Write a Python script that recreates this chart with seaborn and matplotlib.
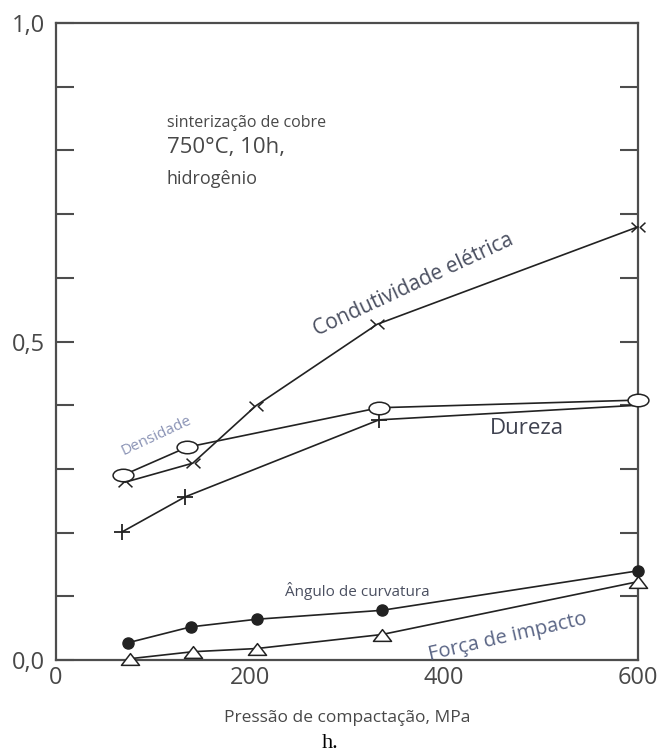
import numpy as np
import pandas as pd
import matplotlib
matplotlib.use("Agg")
import matplotlib.pyplot as plt
import seaborn as sns
from matplotlib.path import Path
from matplotlib.transforms import Affine2D

sns.set_theme(style="white")
plt.rcParams['font.family'] = ['Open Sans', 'DejaVu Sans']

# values (pressure in MPa, relative property)
cond_x = [71, 141, 206, 331, 600]
cond_y = [0.279, 0.309, 0.399, 0.527, 0.680]
dens_x = [69, 135, 333, 600]
dens_y = [0.290, 0.334, 0.396, 0.408]
dur_x = [68, 133, 333, 600]
dur_y = [0.201, 0.256, 0.377, 0.400]
ang_x = [74, 139, 207, 336, 600]
ang_y = [0.027, 0.052, 0.064, 0.078, 0.140]
forca_x = [76, 141, 207, 336, 600]
forca_y = [0.002, 0.013, 0.018, 0.040, 0.123]

ytick_vals = [i / 10 for i in range(11)]
ytick_labels = ["0,0", "", "", "", "", "0,5", "", "", "", "", "1,0"]
xtick_vals = [0, 200, 400, 600]
xtick_labels = ["0", "200", "400", "600"]

txt = '#484848'
line_c = '#222222'

# custom markers
ellipse = Path.unit_circle().transformed(Affine2D().scale(1.0, 0.6))
bowtie = Path([(-1, 0.7), (-0.25, 0), (-1, -0.7), (1, 0.7), (0.25, 0), (1, -0.7)],
              [Path.MOVETO, Path.LINETO, Path.LINETO, Path.MOVETO, Path.LINETO, Path.LINETO])
tri = Path([(-1, -0.65), (0, 0.65), (1, -0.65), (-1, -0.65)],
           [Path.MOVETO, Path.LINETO, Path.LINETO, Path.CLOSEPOLY])

fig = plt.figure(figsize=(6.62, 7.56), dpi=100)
ax = fig.add_axes([56 / 662, 1 - 660 / 756, (638 - 56) / 662, (660 - 23) / 756])

series = [
    (cond_x, cond_y, dict(marker=bowtie, markersize=10, markerfacecolor='none',
                          markeredgecolor=line_c, markeredgewidth=1.1)),
    (dur_x, dur_y, dict(marker='+', markersize=11, markeredgecolor=line_c,
                        markeredgewidth=1.3, markevery=[0, 1, 2])),
    (dens_x, dens_y, dict(marker=ellipse, markersize=15, markerfacecolor='white',
                          markeredgecolor=line_c, markeredgewidth=1.1)),
    (ang_x, ang_y, dict(marker='o', markersize=8, markerfacecolor=line_c,
                        markeredgecolor=line_c, markeredgewidth=1)),
    (forca_x, forca_y, dict(marker=tri, markersize=13, markerfacecolor='white',
                            markeredgecolor=line_c, markeredgewidth=1.1)),
]
for xs, ys, kw in series:
    df = pd.DataFrame({"x": xs, "y": ys})
    sns.lineplot(data=df, x="x", y="y", ax=ax, color=line_c, linewidth=1.2,
                 clip_on=False, zorder=3, **kw)

ax.set_xlim(0, 600)
ax.set_ylim(0, 1.0)
ax.set_yticks(ytick_vals)
ax.set_yticklabels(ytick_labels)
ax.set_xticks(xtick_vals)
ax.set_xticklabels(xtick_labels)
ax.tick_params(axis='y', which='both', direction='in', length=13, width=1.5,
               color='#4d4d4d', left=True, right=True, labelsize=17,
               labelcolor=txt, pad=8)
ax.tick_params(axis='x', length=0, labelsize=17, labelcolor=txt, pad=4)
for s in ax.spines.values():
    s.set_color('#4d4d4d')
    s.set_linewidth(1.6)
ax.set_xlabel("Pressão de compactação, MPa", fontsize=12.5, color=txt, labelpad=15)
ax.set_ylabel("")

ax.text(114, 0.843, "sinterização de cobre", fontsize=11.5, color=txt, ha='left', va='center')
ax.text(114, 0.805, "750°C, 10h,", fontsize=16, color=txt, ha='left', va='center')
ax.text(114, 0.755, "hidrogênio", fontsize=13, color=txt, ha='left', va='center')
ax.text(369, 0.589, "Condutividade elétrica", fontsize=15, color='#4a4f60',
        rotation=25, rotation_mode='anchor', ha='center', va='center')
ax.text(104, 0.352, "Densidade", fontsize=11, color='#8a93b5',
        rotation=25, rotation_mode='anchor', ha='center', va='center')
ax.text(485, 0.364, "Dureza", fontsize=16, color='#3f4250', ha='center', va='center')
ax.text(311, 0.108, "Ângulo de curvatura", fontsize=11, color='#4a4f60',
        ha='center', va='center')
ax.text(466, 0.036, "Força de impacto", fontsize=14.5, color='#5a6585',
        rotation=13, rotation_mode='anchor', ha='center', va='center')

fig.text(330 / 662, 1 - 743 / 756, "h.", fontsize=16, family='Liberation Serif',
         color='black', ha='center', va='center')

fig.savefig("out.png", dpi=100)
